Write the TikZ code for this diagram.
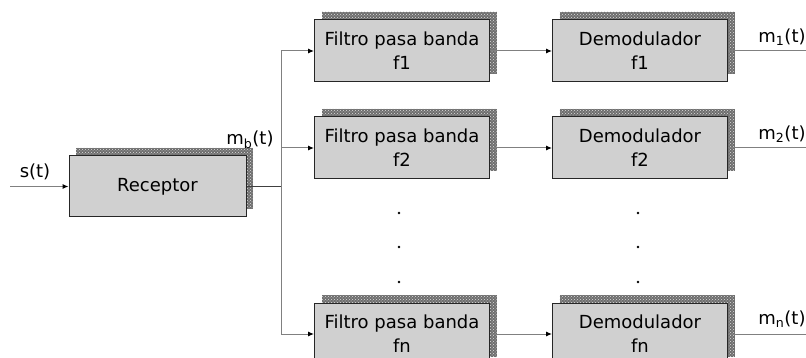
\documentclass[tikz,border=0pt]{standalone}
\usepackage{fontspec}
\setmainfont{DejaVu Sans}
\usetikzlibrary{arrows.meta, shadows, patterns}
\definecolor{caja-gris}{HTML}{D0D0D0}
\definecolor{sombra-gris}{HTML}{6E6E6E}
\definecolor{linea-gris}{HTML}{808080}

\begin{document}
\begin{tikzpicture}[x=1pt, y=-1pt,
        every node/.style={font=\fontsize{18}{24}\selectfont},
        bloque/.style={draw=black!85, line width=1pt, fill=caja-gris,
            minimum width=175pt, minimum height=62pt, align=center, inner sep=0pt,
            general shadow={shadow xshift=7pt, shadow yshift=8pt, fill=sombra-gris,
                postaction={pattern=crosshatch dots, pattern color=white!75!gray}}},
        linea/.style={draw=linea-gris, line width=1pt},
        senal/.style={linea, -{Latex[length=6pt, width=5pt, color=black]}}]
      \useasboundingbox (0,0) rectangle (806,358);
      % bloques
      \node[bloque, minimum width=177pt, minimum height=61pt] (rec) at (157.5,186.5) {Receptor};
      \node[bloque] (fil1) at (402,51) {Filtro pasa banda\\f1};
      \node[bloque] (fil2) at (402,148) {Filtro pasa banda\\f2};
      \node[bloque] (filn) at (402,334) {Filtro pasa banda\\fn};
      \node[bloque] (dem1) at (640,51) {Demodulador\\f1};
      \node[bloque] (dem2) at (640,148) {Demodulador\\f2};
      \node[bloque] (demn) at (640,334) {Demodulador\\fn};
      % entrada y bus
      \coordinate (ent) at (10,186.5);
      \coordinate (bus) at (281,186.5);
      \draw[senal] (ent) -- (rec.west);
      \draw[line width=1.6pt, draw=black!75] (rec.east) -- (bus);
      \draw[senal] (bus) |- (fil1.west);
      \draw[senal] (bus) |- (fil2.west);
      \draw[senal] (bus) |- (filn.west);
      % filtros a demoduladores
      \draw[senal] (fil1.east) -- (dem1.west);
      \draw[senal] (fil2.east) -- (dem2.west);
      \draw[senal] (filn.east) -- (demn.west);
      % salidas
      \coordinate (sal1) at (806,51);
      \coordinate (sal2) at (806,148);
      \coordinate (saln) at (806,334);
      \draw[linea] (dem1.east) -- (sal1);
      \draw[linea] (dem2.east) -- (sal2);
      \draw[linea] (demn.east) -- (saln);
      % etiquetas
      \node (st) at (35,172) {s(t)};
      \node (mb) at (250,140) {m\textsubscript{b}(t)};
      \node (m1) at (782,37) {m\textsubscript{1}(t)};
      \node (m2) at (782,134) {m\textsubscript{2}(t)};
      \node (mn) at (782,319) {m\textsubscript{n}(t)};
      % puntos
      \foreach \y in {213,247,282} {
        \fill (399,\y) circle (1.4pt);
        \fill (638,\y) circle (1.4pt);
      }
    \end{tikzpicture}
\end{document}
